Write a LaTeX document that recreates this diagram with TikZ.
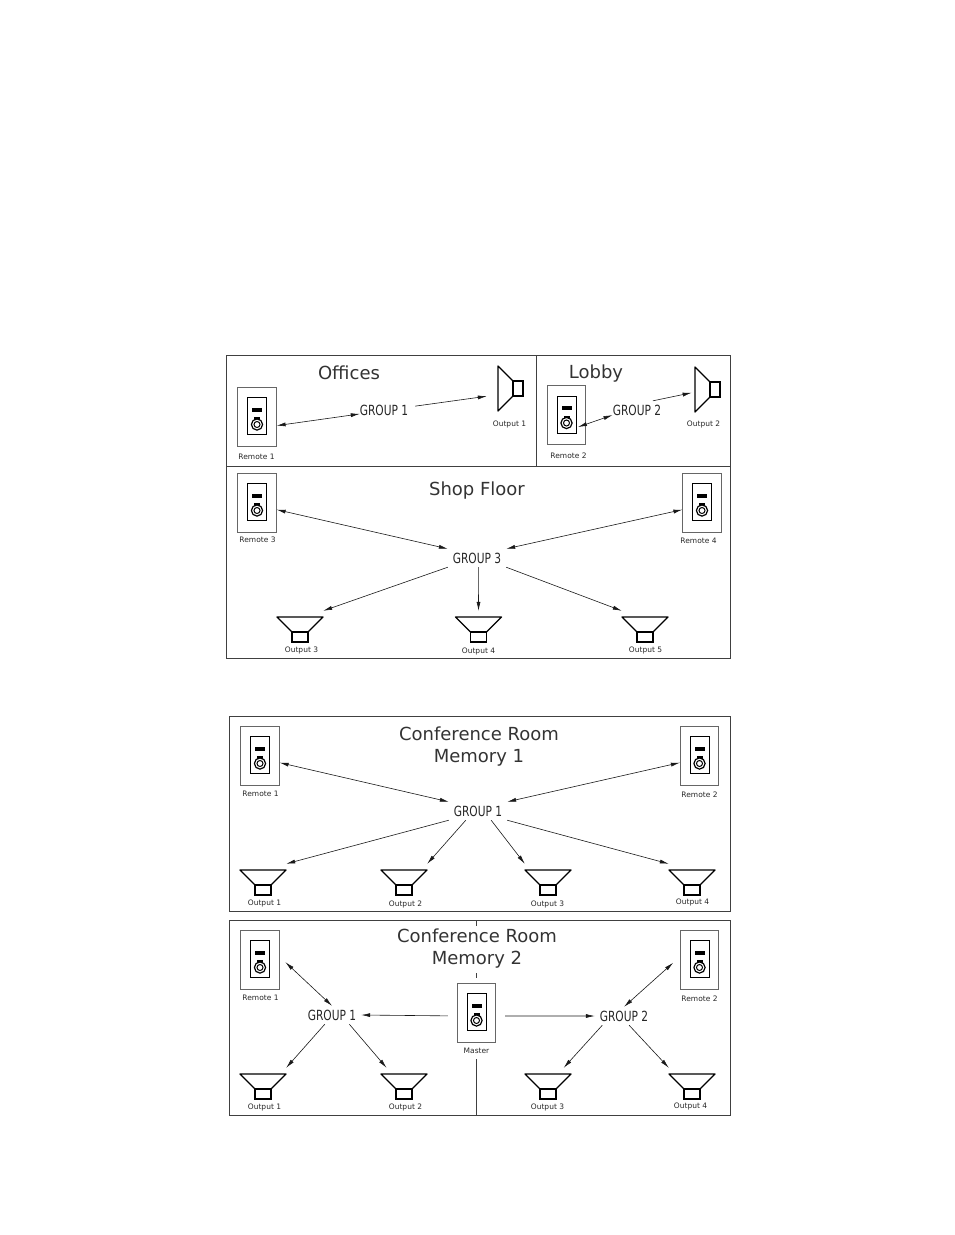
\documentclass[tikz,border=0pt]{standalone}
\usepackage{fontspec}
\setmainfont{DejaVu Sans}
\newfontfamily\groupfont[FakeStretch=0.76]{DejaVu Sans}
\usetikzlibrary{arrows.meta}

\tikzset{
	panel/.style={draw=black!75, line width=0.8pt},
	plate/.style={draw=black!60, line width=0.7pt, minimum width=38.5pt, minimum height=59pt, inner sep=0pt},
	title/.style={text=black!80, font=\fontsize{18}{22}\selectfont, inner sep=0pt},
	group/.style={text=black!85, font=\groupfont\fontsize{14}{16}\selectfont, minimum width=58pt, minimum height=18pt, inner sep=0pt},
	small/.style={text=black!85, font=\fontsize{7.5}{9}\selectfont, inner sep=0pt},
	box/.style={minimum width=46pt, minimum height=31pt, inner sep=0pt},
	link/.style={-{Latex[length=9pt,width=4pt]}, line width=0.6pt, black!90},
	both/.style={{Latex[length=9pt,width=4pt]}-{Latex[length=9pt,width=4pt]}, line width=0.6pt, black!90}
}

% wall plate with display and knob: name, centre x, centre y, label, label x, label y
\newcommand{\remote}[6]{
	\node[plate] (#1) at (#2,#3) {};
	\draw[line width=0.8pt] (#2-9.5,#3-19) rectangle (#2+9.5,#3+18);
	\fill (#2-5,#3-9) rectangle (#2+5,#3-5);
	\fill (#2-3,#3+0.5) rectangle (#2+3,#3+4);
	\draw[line width=1.2pt, fill=white] (#2,#3+8) circle [radius=5.6];
	\draw[line width=1pt] (#2,#3+8) circle [radius=3];
	\node[small] (#1text) at (#5+0.5,#6+1) {#4};
}

% speaker facing up: name, left x, top y, label, label x, label y
\newcommand{\speaker}[6]{
	\node[box] (#1) at (#2+23,#3+9.5) {};
	\draw[line width=1.3pt, line join=round] (#2,#3) -- (#2+46,#3) -- (#2+31,#3+15) -- (#2+15,#3+15) -- cycle;
	\draw[line width=1.1pt] (#2+15,#3+15) rectangle (#2+31,#3+25);
	\node[small] (#1text) at (#5+0.5,#6+1) {#4};
}

% speaker facing left: name, left x, top y, label, label x, label y
\newcommand{\sidespeaker}[6]{
	\node[minimum width=36pt, minimum height=46pt, inner sep=0pt] (#1) at (#2+7,#3+22.5) {};
	\draw[line width=1.3pt, line join=round] (#2,#3) -- (#2,#3+45) -- (#2+15,#3+30) -- (#2+15,#3+15) -- cycle;
	\draw[line width=1.1pt] (#2+15,#3+15) rectangle (#2+25,#3+30);
	\node[small] (#1text) at (#5+0.5,#6+1) {#4};
}

\begin{document}
\begin{tikzpicture}[x=1pt, y=-1pt]
	\useasboundingbox (0,0) rectangle (954,1235);

	% Rahmen oben
	\draw[panel] (226,355) rectangle (730,658);
	\draw[panel] (226,466) -- (730,466);
	\draw[panel] (536,355) -- (536,466);

	\node[title] (offices) at (349,373) {Offices};
	\node[title] (lobby) at (596,374) {Lobby};
	\node[title] (shop) at (477,491) {Shop Floor};

	% Offices
	\remote{remA}{257}{416.5}{Remote 1}{256}{456}
	\sidespeaker{outA}{498}{366}{Output 1}{509}{423}
	\node[group] (grpA) at (384,410) {GROUP 1};
	\draw[both, shorten >=-5pt] (remA.-25) -- (grpA.189);
	\draw[link, shorten <=2pt] (grpA.7) -- (outA.203);

	% Lobby
	\remote{remB}{566.5}{415}{Remote 2}{568}{455}
	\sidespeaker{outB}{695}{367}{Output 2}{703}{423}
	\node[group] (grpB) at (637,410) {GROUP 2};
	\coordinate (tipB) at (578,427);
	\draw[both, shorten >=-5pt] (tipB) -- (grpB.193);
	\draw[link, shorten >=-8pt] (grpB.30) -- (outB.195);

	% Shop Floor
	\remote{remC}{257}{502.5}{Remote 3}{257}{539}
	\remote{remD}{702}{502.5}{Remote 4}{698}{540}
	\node[group] (grpC) at (477,558) {GROUP 3};
	\speaker{outC}{277}{617}{Output 3}{301}{649}
	\speaker{outD}{455.5}{617}{Output 4}{478}{650}
	\speaker{outE}{622}{617}{Output 5}{645}{649}
	\draw[both] (remC.-20) -- (grpC.north west);
	\draw[both] (remD.200) -- (grpC.north east);
	\draw[link] (grpC.south west) -- (outC.north east);
	\draw[link] (grpC.280) -- (outD.north);
	\draw[link] (grpC.south east) -- (outE.north west);

	% Memory 1
	\draw[panel] (229,716) rectangle (730,911);
	\node[title] (confA) at (479,734) {Conference Room};
	\node[title] (memA) at (479,758) {Memory 1};
	\remote{remE}{260}{755.5}{Remote 1}{260}{793}
	\remote{remF}{699.5}{755.5}{Remote 2}{699}{794}
	\node[group] (grpD) at (478,811) {GROUP 1};
	\speaker{outF}{240}{870}{Output 1}{264}{902}
	\speaker{outG}{381}{870}{Output 2}{405}{903}
	\speaker{outH}{525}{870}{Output 3}{547}{903}
	\speaker{outI}{669}{870}{Output 4}{692}{901}
	\draw[both] (remE.-20) -- (grpD.north west);
	\draw[both] (remF.200) -- (grpD.north east);
	\draw[link] (grpD.south west) -- (outF.north east);
	\draw[link] (grpD.217) -- (outG.north east);
	\draw[link] (grpD.325) -- (outH.north west);
	\draw[link] (grpD.south east) -- (outI.north west);

	% Memory 2
	\draw[panel] (229,920) rectangle (730,1115);
	\draw[panel] (476,920) -- (476,926);
	\draw[panel] (476,973) -- (476,978);
	\draw[panel] (476,1059) -- (476,1115);
	\node[title] (confB) at (477,936) {Conference Room};
	\node[title] (memB) at (477,960) {Memory 2};
	\remote{remG}{260}{959.5}{Remote 1}{260}{997}
	\remote{remH}{699.5}{959.5}{Remote 2}{699}{998}
	\remote{master}{476.5}{1012.5}{Master}{476}{1050}
	\node[group] (grpE) at (332,1015) {GROUP 1};
	\node[group] (grpF) at (624,1016) {GROUP 2};
	\speaker{outJ}{240}{1074}{Output 1}{264}{1106}
	\speaker{outK}{381}{1074}{Output 2}{405}{1106}
	\speaker{outL}{525}{1074}{Output 3}{547}{1106}
	\speaker{outM}{669}{1074}{Output 4}{690}{1105}
	\draw[both, shorten <=8pt] (remG.8) -- (grpE.north);
	\draw[both, shorten <=9pt] (remH.172) -- (grpF.north);
	\draw[link, shorten <=9pt] (master.190) -- (grpE.east);
	\draw[link, shorten <=9pt] (master.-10) -- (grpF.west);
	\draw[link] (grpE.232) -- (outJ.north east);
	\draw[link] (grpE.332) -- (outK.138);
	\draw[link] (grpF.203) -- (outL.45);
	\draw[link] (grpF.299) -- (outM.north west);
\end{tikzpicture}
\end{document}
